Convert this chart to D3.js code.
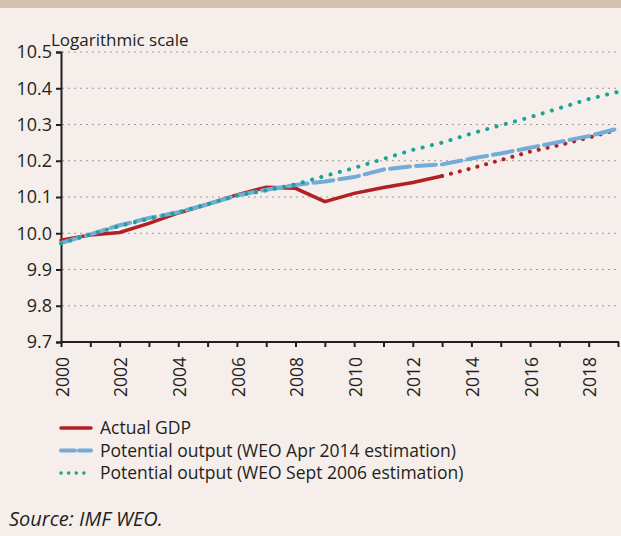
<!DOCTYPE html>
<html lang="en">
<head>
  <meta charset="UTF-8">
  <title>Actual GDP and potential output</title>
  <script src="https://d3js.org/d3.v7.min.js"></script>
  <style>
    body {
      margin: 0;
      background: #f5eeeb;
      font-family: "Open Sans", sans-serif;
    }
    svg { display: block; }
    .legend text { font-size: 17.5px; fill: #231f20; }
  </style>
</head>
<body>
<svg width="621" height="536"></svg>
<script>
  const years = d3.range(2000, 2020);
  const actualGdp = [9.981, 9.995, 10.002, 10.027, 10.056, 10.08, 10.106, 10.127, 10.124, 10.087,
                     10.11, 10.126, 10.14, 10.158, 10.179, 10.202, 10.225, 10.243, 10.264, 10.286];
  const lastActualYear = 2013;
  const potApr2014 = [9.973, 9.997, 10.022, 10.042, 10.058, 10.08, 10.104, 10.12, 10.133, 10.143,
                      10.155, 10.176, 10.185, 10.19, 10.206, 10.22, 10.236, 10.252, 10.268, 10.289];
  const potSept2006 = [9.972, 9.997, 10.02, 10.04, 10.058, 10.08, 10.104, 10.118, 10.135, 10.158,
                       10.18, 10.205, 10.23, 10.25, 10.275, 10.298, 10.32, 10.345, 10.37, 10.39];
  const yTicks = [9.7, 9.8, 9.9, 10.0, 10.1, 10.2, 10.3, 10.4, 10.5];
  const xLabels = d3.range(2000, 2019, 2);

  const svg = d3.select("svg");
  const width = +svg.attr("width");

  svg.append("rect").attr("width", width).attr("height", 8).attr("fill", "#d5c3b2");

  const x = d3.scaleLinear().domain([2000, 2019]).range([61, 618]);
  const y = d3.scaleLinear().domain([9.7, 10.5]).range([342, 52]);

  // gridlines
  svg.append("g")
    .selectAll("line")
    .data(yTicks.filter(d => d > 9.7))
    .join("line")
    .attr("x1", 62).attr("x2", 619)
    .attr("y1", d => y(d)).attr("y2", d => y(d))
    .attr("stroke", "#9d9897")
    .attr("stroke-width", 1.2)
    .attr("stroke-dasharray", "2,4");

  // y axis
  const yAxis = svg.append("g")
    .attr("transform", `translate(${x(2000)},0)`)
    .call(d3.axisLeft(y).tickValues(yTicks).tickFormat(d3.format(".1f")).tickSize(5).tickPadding(4))
    .attr("font-family", "Open Sans, sans-serif")
    .attr("font-size", 18);
  yAxis.select(".domain").attr("stroke", "#231f20").attr("stroke-width", 2);
  yAxis.selectAll(".tick line").attr("stroke", "#231f20").attr("stroke-width", 2);
  yAxis.selectAll(".tick text").attr("fill", "#231f20");

  // x axis
  const xAxis = svg.append("g")
    .attr("transform", `translate(0,${y(9.7)})`)
    .call(d3.axisBottom(x).tickValues(years).tickFormat(d => xLabels.includes(d) ? d : "").tickSize(5).tickSizeOuter(0))
    .attr("font-family", "Open Sans, sans-serif")
    .attr("font-size", 17.5);
  xAxis.select(".domain").attr("stroke", "#231f20").attr("stroke-width", 2).attr("d", `M${x(2000)},0H${x(2019) + 1}`);
  xAxis.selectAll(".tick line").attr("stroke", "#231f20").attr("stroke-width", 2);
  xAxis.selectAll(".tick text")
    .attr("fill", "#231f20")
    .attr("transform", "rotate(-90)")
    .attr("text-anchor", "end")
    .attr("x", -15)
    .attr("y", 1)
    .attr("dy", "0.35em");

  svg.append("text")
    .attr("x", 51).attr("y", 46)
    .attr("font-size", 17)
    .attr("fill", "#231f20")
    .text("Logarithmic scale");

  const line = d3.line().x(d => x(d[0])).y(d => y(d[1]));
  const pairs = arr => years.map((yr, i) => [yr, arr[i]]);

  const plot = svg.append("g").attr("fill", "none").attr("stroke-linecap", "round");

  const actual = pairs(actualGdp);
  plot.append("path")
    .attr("d", line(actual.filter(d => d[0] <= lastActualYear)))
    .attr("stroke", "#b22025").attr("stroke-width", 3.5);
  plot.append("path")
    .attr("d", line(actual.filter(d => d[0] >= lastActualYear)))
    .attr("stroke", "#b22025").attr("stroke-width", 4)
    .attr("stroke-dasharray", "0.1,9");

  plot.append("path")
    .attr("d", line(pairs(potApr2014)))
    .attr("stroke", "#74acd9").attr("stroke-width", 4)
    .attr("stroke-dasharray", "20,6");

  plot.append("path")
    .attr("d", line(pairs(potSept2006)))
    .attr("stroke", "#1aa396").attr("stroke-width", 4)
    .attr("stroke-dasharray", "0.1,9.5");

  // legend
  const legendItems = [
    { label: "Actual GDP", color: "#b22025", dash: null, w: 3.5 },
    { label: "Potential output (WEO Apr 2014 estimation)", color: "#74acd9", dash: "14,4", w: 4 },
    { label: "Potential output (WEO Sept 2006 estimation)", color: "#1aa396", dash: "0.1,7.5", w: 3.5 }
  ];
  const legend = svg.append("g").attr("class", "legend");
  const item = legend.selectAll("g")
    .data(legendItems)
    .join("g")
    .attr("transform", (d, i) => `translate(0,${428 + i * 22.5})`);
  item.append("line")
    .attr("x1", 61).attr("x2", 91)
    .attr("stroke", d => d.color)
    .attr("stroke-width", d => d.w)
    .attr("stroke-linecap", "round")
    .attr("stroke-dasharray", d => d.dash);
  item.append("text")
    .attr("x", 100).attr("dy", "0.35em")
    .text(d => d.label);

  svg.append("text")
    .attr("x", 9).attr("y", 526)
    .attr("font-size", 20)
    .attr("font-style", "italic")
    .attr("fill", "#231f20")
    .text("Source: IMF WEO.");
</script>
</body>
</html>
